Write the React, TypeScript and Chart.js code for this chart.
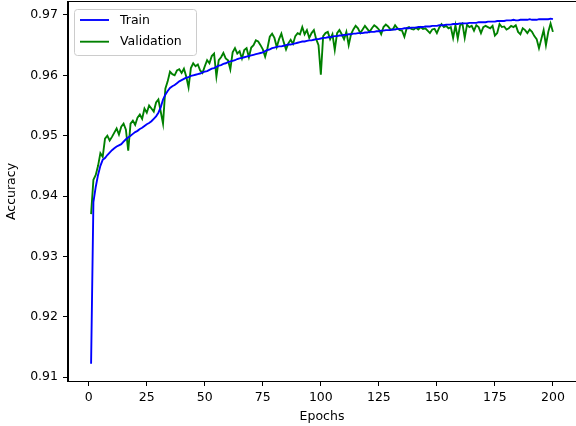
import React, { useEffect, useRef } from 'react';
import { Chart, registerables } from 'chart.js';

Chart.register(...registerables);

const epochs: number[] = Array.from({ length: 200 }, (_, i) => i + 1);

const trainAcc: number[] = [
  0.9122, 0.9390, 0.9415, 0.9435, 0.9450, 0.9460, 0.9463, 0.9468, 0.9472, 0.9476,
  0.9479, 0.9482, 0.9484, 0.9486, 0.9490, 0.9494, 0.9497, 0.9500, 0.9503, 0.9506,
  0.9508, 0.9511, 0.9513, 0.9516, 0.9519, 0.9521, 0.9524, 0.9528, 0.9532, 0.9538,
  0.9547, 0.9560, 0.9568, 0.9574, 0.9579, 0.9582, 0.9584, 0.9587, 0.9590, 0.9592,
  0.9594, 0.9596, 0.9597, 0.9599, 0.9600, 0.9601, 0.9602, 0.9603, 0.9605, 0.9606,
  0.9607, 0.9609, 0.9611, 0.9612, 0.9614, 0.9616, 0.9617, 0.9619, 0.9620, 0.9622,
  0.9623, 0.9624, 0.9625, 0.9627, 0.9628, 0.9629, 0.9630, 0.9631, 0.9632, 0.9633,
  0.9634, 0.9635, 0.9636, 0.9637, 0.9638, 0.9640, 0.9642, 0.9643, 0.9645, 0.9646,
  0.9647, 0.9648, 0.9648, 0.9649, 0.9650, 0.9651, 0.9651, 0.9652, 0.9653, 0.9654,
  0.9655, 0.9656, 0.9656, 0.9657, 0.9658, 0.9658, 0.9659, 0.9660, 0.9660, 0.9661,
  0.9662, 0.9662, 0.9663, 0.9663, 0.9664, 0.9665, 0.9665, 0.9666, 0.9666, 0.9667,
  0.9667, 0.9668, 0.9668, 0.9669, 0.9669, 0.9670, 0.9670, 0.9670, 0.9671, 0.9671,
  0.9672, 0.9672, 0.9672, 0.9673, 0.9673, 0.9674, 0.9674, 0.9675, 0.9675, 0.9675,
  0.9676, 0.9676, 0.9677, 0.9677, 0.9677, 0.9678, 0.9678, 0.9678, 0.9679, 0.9679,
  0.9679, 0.9680, 0.9680, 0.9680, 0.9681, 0.9681, 0.9681, 0.9682, 0.9682, 0.9682,
  0.9683, 0.9683, 0.9683, 0.9684, 0.9684, 0.9684, 0.9685, 0.9685, 0.9685, 0.9686,
  0.9686, 0.9686, 0.9686, 0.9687, 0.9687, 0.9687, 0.9687, 0.9688, 0.9688, 0.9688,
  0.9688, 0.9689, 0.9689, 0.9689, 0.9689, 0.9690, 0.9690, 0.9690, 0.9690, 0.9691,
  0.9691, 0.9691, 0.9692, 0.9691, 0.9691, 0.9692, 0.9692, 0.9692, 0.9692, 0.9693,
  0.9692, 0.9692, 0.9692, 0.9693, 0.9693, 0.9693, 0.9693, 0.9693, 0.9694, 0.9693,
];

const valAcc: number[] = [
  0.9370, 0.9427, 0.9435, 0.9450, 0.9471, 0.9465, 0.9495, 0.9500, 0.9492, 0.9498,
  0.9505, 0.9512, 0.9502, 0.9515, 0.9520, 0.9510, 0.9475, 0.9520, 0.9525, 0.9518,
  0.9530, 0.9535, 0.9528, 0.9545, 0.9538, 0.9550, 0.9545, 0.9540, 0.9555, 0.9560,
  0.9540, 0.9520, 0.9578, 0.9590, 0.9606, 0.9602, 0.9600, 0.9608, 0.9610, 0.9604,
  0.9611, 0.9598, 0.9580, 0.9612, 0.9620, 0.9615, 0.9618, 0.9608, 0.9604, 0.9615,
  0.9625, 0.9620, 0.9632, 0.9636, 0.9598, 0.9625, 0.9630, 0.9637, 0.9628, 0.9625,
  0.9610, 0.9638, 0.9645, 0.9636, 0.9640, 0.9628, 0.9642, 0.9645, 0.9630, 0.9646,
  0.9650, 0.9658, 0.9656, 0.9650, 0.9643, 0.9631, 0.9645, 0.9664, 0.9669, 0.9662,
  0.9647, 0.9660, 0.9669, 0.9655, 0.9643, 0.9653, 0.9659, 0.9652, 0.9665, 0.9670,
  0.9668, 0.9680, 0.9668, 0.9675, 0.9662, 0.9670, 0.9675, 0.9660, 0.9650, 0.9601,
  0.9665, 0.9670, 0.9672, 0.9660, 0.9668, 0.9642, 0.9670, 0.9675, 0.9668, 0.9660,
  0.9672, 0.9650, 0.9668, 0.9676, 0.9682, 0.9678, 0.9670, 0.9676, 0.9682, 0.9677,
  0.9672, 0.9678, 0.9683, 0.9680, 0.9676, 0.9668, 0.9680, 0.9684, 0.9681, 0.9676,
  0.9676, 0.9683, 0.9678, 0.9675, 0.9674, 0.9664, 0.9678, 0.9680, 0.9677, 0.9676,
  0.9679, 0.9676, 0.9680, 0.9677, 0.9678, 0.9674, 0.9670, 0.9676, 0.9677, 0.9670,
  0.9679, 0.9685, 0.9680, 0.9682, 0.9678, 0.9680, 0.9662, 0.9683, 0.9661, 0.9683,
  0.9686, 0.9662, 0.9684, 0.9680, 0.9682, 0.9674, 0.9683, 0.9680, 0.9670, 0.9680,
  0.9682, 0.9680, 0.9678, 0.9682, 0.9666, 0.9670, 0.9685, 0.9680, 0.9681, 0.9676,
  0.9678, 0.9682, 0.9680, 0.9683, 0.9672, 0.9668, 0.9678, 0.9675, 0.9670, 0.9676,
  0.9672, 0.9665, 0.9660, 0.9645, 0.9660, 0.9675, 0.9650, 0.9672, 0.9686, 0.9672,
];

const xTicks: number[] = [0, 25, 50, 75, 100, 125, 150, 175, 200];
const yTicks: number[] = [0.91, 0.92, 0.93, 0.94, 0.95, 0.96, 0.97];

const FONT = 'DejaVu Sans';

const framePlugin = {
  id: 'frame',
  afterDatasetsDraw(chart: any) {
    const { ctx, chartArea } = chart;
    ctx.save();
    ctx.strokeStyle = '#000';
    ctx.lineWidth = 1;
    ctx.strokeRect(chartArea.left - 0.5, chartArea.top - 0.5, chartArea.right - chartArea.left + 1, chartArea.bottom - chartArea.top + 1);
    ctx.restore();
  },
};

const legendPlugin = {
  id: 'boxLegend',
  afterDraw(chart: any) {
    const { ctx } = chart;
    const bx = 74.5, by = 9.5, bw = 122, bh = 46, r = 3;
    ctx.save();
    ctx.beginPath();
    ctx.moveTo(bx + r, by);
    ctx.lineTo(bx + bw - r, by);
    ctx.quadraticCurveTo(bx + bw, by, bx + bw, by + r);
    ctx.lineTo(bx + bw, by + bh - r);
    ctx.quadraticCurveTo(bx + bw, by + bh, bx + bw - r, by + bh);
    ctx.lineTo(bx + r, by + bh);
    ctx.quadraticCurveTo(bx, by + bh, bx, by + bh - r);
    ctx.lineTo(bx, by + r);
    ctx.quadraticCurveTo(bx, by, bx + r, by);
    ctx.closePath();
    ctx.fillStyle = 'rgba(255,255,255,0.8)';
    ctx.fill();
    ctx.strokeStyle = '#cccccc';
    ctx.lineWidth = 1;
    ctx.stroke();
    ctx.font = `12.5px "${FONT}"`;
    ctx.textBaseline = 'middle';
    ctx.textAlign = 'left';
    chart.data.datasets.forEach((ds: any, i: number) => {
      const cy = 20 + i * 21.7;
      ctx.strokeStyle = ds.borderColor;
      ctx.lineWidth = 1.875;
      ctx.beginPath();
      ctx.moveTo(80, cy);
      ctx.lineTo(109, cy);
      ctx.stroke();
      ctx.fillStyle = '#000';
      ctx.fillText(ds.label, 120, cy + 0.5);
    });
    ctx.restore();
  },
};

export default function App() {
  const ref = useRef<HTMLCanvasElement | null>(null);

  useEffect(() => {
    if (!ref.current) return;
    const tickFont = { family: FONT, size: 12.5 };
    const chart = new Chart(ref.current, {
      type: 'line',
      data: {
        datasets: [
          {
            label: 'Train',
            data: epochs.map((e, i) => ({ x: e, y: trainAcc[i] })),
            borderColor: '#0000ff',
            backgroundColor: '#0000ff',
            borderWidth: 1.875,
            pointRadius: 0,
            tension: 0,
            fill: false,
          },
          {
            label: 'Validation',
            data: epochs.map((e, i) => ({ x: e, y: valAcc[i] })),
            borderColor: '#008000',
            backgroundColor: '#008000',
            borderWidth: 1.875,
            pointRadius: 0,
            tension: 0,
            fill: false,
          },
        ],
      },
      options: {
        animation: false,
        responsive: false,
        devicePixelRatio: 1,
        layout: { padding: { top: 2, right: 0, bottom: 0, left: 0 } },
        plugins: {
          legend: { display: false },
          tooltip: { enabled: false },
        },
        scales: {
          x: {
            type: 'linear',
            min: -8.95,
            max: 209.95,
            afterBuildTicks: (s: any) => {
              s.ticks = xTicks.map((v) => ({ value: v }));
            },
            afterFit: (s: any) => {
              s.height = 45;
              s.paddingLeft = 0;
              s.paddingRight = 0;
            },
            grid: { display: true, drawOnChartArea: false, drawTicks: true, tickLength: 5, color: '#000', tickWidth: 1 },
            border: { display: true, color: '#000', width: 1 },
            ticks: { font: tickFont, color: '#000', padding: 4, maxRotation: 0, autoSkip: false, callback: (v: any) => String(v) },
            title: { display: true, text: 'Epochs', font: tickFont, color: '#000', padding: { top: 0, bottom: 2 } },
          },
          y: {
            type: 'linear',
            min: 0.90935,
            max: 0.97215,
            afterBuildTicks: (s: any) => {
              s.ticks = yTicks.map((v) => ({ value: v }));
            },
            afterFit: (s: any) => {
              s.width = 68;
              s.paddingTop = 0;
              s.paddingBottom = 0;
            },
            grid: { display: true, drawOnChartArea: false, drawTicks: true, tickLength: 5, color: '#000', tickWidth: 1 },
            border: { display: true, color: '#000', width: 1 },
            ticks: { font: tickFont, color: '#000', padding: 5, autoSkip: false, callback: (v: any) => Number(v).toFixed(2) },
            title: { display: true, text: 'Accuracy', font: tickFont, color: '#000', padding: { top: 4, bottom: 0 } },
          },
        },
      },
      plugins: [framePlugin, legendPlugin],
    });
    return () => chart.destroy();
  }, []);

  return (
    <div style={{ position: 'absolute', left: 0, top: 0, width: 576, height: 426, background: '#fff' }}>
      <canvas ref={ref} width={576} height={426} style={{ display: 'block' }} />
    </div>
  );
}
